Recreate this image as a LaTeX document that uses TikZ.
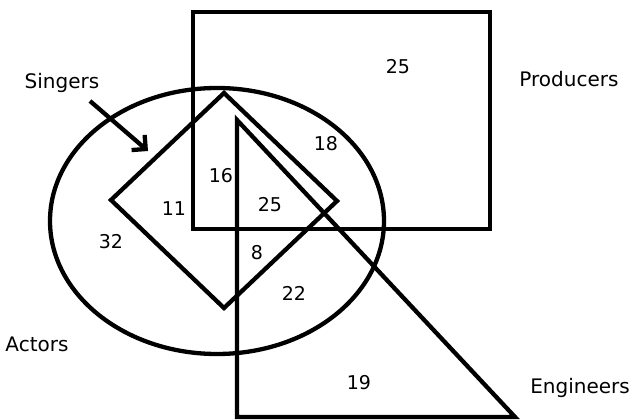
\documentclass[tikz,border=0pt]{standalone}
\usepackage{fontspec}
\setmainfont{DejaVu Sans}
\usetikzlibrary{arrows.meta}
\tikzset{
    every node/.append style={align=center},
    setline/.style={draw=black,line width=4.3pt,line join=miter},
    lbl/.style={font=\fontsize{20}{23}\selectfont,inner sep=0pt},
    num/.style={font=\fontsize{19}{22}\selectfont,inner sep=0pt},
    arr/.style={-{Straight Barb[length=10pt,width=20pt]},line width=4.3pt}
}
\begin{document}
\begin{tikzpicture}[x=1pt,y=-1pt]
    \useasboundingbox (0,0) rectangle (635,420);
    % sets
    \draw[setline] (193,12) rectangle (490,229);
    \draw[setline] (217,221) ellipse [x radius=167,y radius=133];
    \draw[setline] (224,93) -- (337,201) -- (224,308) -- (111,200) -- cycle;
    \draw[setline] (237,120) -- (515,417) -- (237,417) -- cycle;

    % set names
    \node[lbl] (singers)   at (62,83)   {Singers};
    \node[lbl] (producers) at (569,79)  {Producers};
    \node[lbl] (actors)    at (37,344)  {Actors};
    \node[lbl] (engineers) at (580,388) {Engineers};

    \coordinate (sstart) at (90,101);
    \coordinate (send)   at (148,151);
    \draw[arr] (sstart) -- (send);

    % counts
    \node[num] (nP)    at (398,67)  {25};
    \node[num] (nPA)   at (326,144) {18};
    \node[num] (nPAS)  at (221,176) {16};
    \node[num] (nAS)   at (174,209) {11};
    \node[num] (nAll)  at (270,205) {25};
    \node[num] (nA)    at (111,242) {32};
    \node[num] (nASE)  at (257,253) {8};
    \node[num] (nAE)   at (294,293) {22};
    \node[num] (nE)    at (359,383) {19};
\end{tikzpicture}
\end{document}
